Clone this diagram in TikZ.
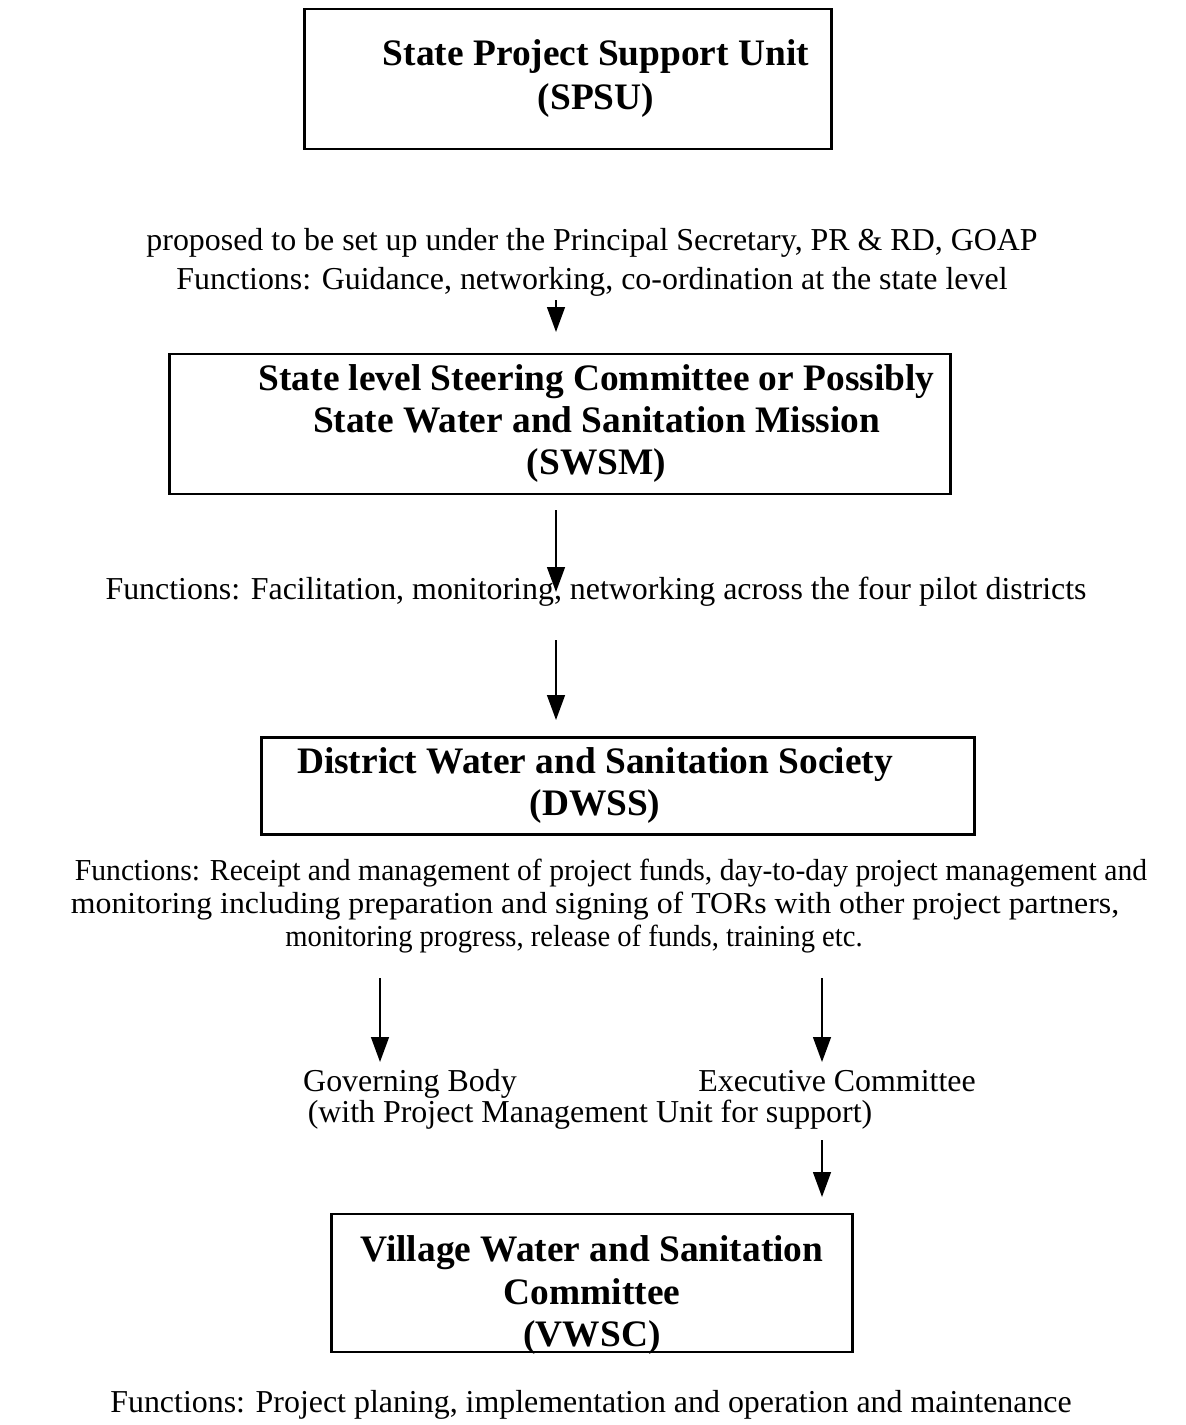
\documentclass[tikz,border=0pt]{standalone}
\usepackage{fontspec}
\setmainfont{Liberation Serif}
\usepackage{tikz}
\usetikzlibrary{positioning,arrows.meta}

% text block set off sideways inside a box
\newcommand{\offtext}[2]{\ifdim#1>0pt\hspace*{#1}\fi
  \begin{tabular}{@{}c@{}}#2\end{tabular}\ifdim#1<0pt\hspace*{-#1}\fi}

\tikzset{
  unitbox/.style={draw,line width=1.2pt,inner sep=0pt,font=\fontsize{15.7pt}{17.8pt}\selectfont\bfseries},
  note/.style={align=center,font=\fontsize{13.4pt}{13.9pt}\selectfont},
  arr/.style={line width=0.8pt,-{Triangle[length=10.5pt,width=7.5pt]}}
}

\begin{document}
\begin{tikzpicture}[x=0.42pt,y=-0.42pt]
    \useasboundingbox (0,0) rectangle (1185,1425);

    % boxes
    \node[unitbox,minimum width=527*0.42pt,minimum height=140*0.42pt]
      (spsu) at (568,79) {\offtext{23.5pt}{State Project Support Unit\\[1pt](SPSU)}};
    \node[unitbox,minimum width=781*0.42pt,minimum height=140*0.42pt]
      (swsm) at (560,424) {\offtext{30.7pt}{State level Steering Committee or Possibly\\
      State Water and Sanitation Mission\\(SWSM)}};
    \node[unitbox,minimum width=713*0.42pt,minimum height=97*0.42pt]
      (dwss) at (618,786) {\offtext{-19.3pt}{District Water and Sanitation Society\\(DWSS)}};
    \node[unitbox,minimum width=521*0.42pt,minimum height=138*0.42pt]
      (vwsc) at (592,1283) {\raisebox{-9pt}[0pt][0pt]{\offtext{0pt}{Village Water and Sanitation\\
      Committee\\(VWSC)}}};

    % function notes
    \node[note,font=\fontsize{13.4pt}{16.4pt}\selectfont] (spsufn) at (592,262)
      {proposed to be set up under the Principal Secretary, PR \& RD, GOAP\\
       Functions: Guidance, networking, co-ordination at the state level};
    \node[note] (swsmfn) at (596,592)
      {Functions: Facilitation, monitoring, networking across the four pilot districts};
    \node[note,font=\fontsize{12.8pt}{13.9pt}\selectfont] (dwssfn) at (595,906)
      {\hspace*{13.4pt}\scalebox{0.973}[1]{Functions: Receipt and management of project funds, day-to-day project management and}\\
       \scalebox{1.044}[1]{monitoring including preparation and signing of TORs with other project partners,}\hspace*{5pt}\\
       \scalebox{0.938}[1]{monitoring progress, release of funds, training etc.}\hspace*{17.6pt}};
    \node[note,anchor=base] (gov) at (410,1091) {Governing Body};
    \node[note,anchor=base] (exec) at (837,1091) {Executive Committee};
    \node[note] (pmu) at (590,1115) {(with Project Management Unit for support)};
    \node[note] (vwscfn) at (591,1405)
      {Functions: Project planing, implementation and operation and maintenance};

    % arrow ends
    \coordinate (a1s) at (556,300);  \coordinate (a1e) at (556,332);
    \coordinate (a2s) at (556,510);  \coordinate (a2e) at (556,592);
    \coordinate (a3s) at (556,640);  \coordinate (a3e) at (556,720);
    \coordinate (a4s) at (380,978);  \coordinate (a4e) at (380,1062);
    \coordinate (a5s) at (822,978);  \coordinate (a5e) at (822,1062);
    \coordinate (a6s) at (822,1140); \coordinate (a6e) at (822,1197);

    \draw[arr] (a1s) -- (a1e);
    \draw[arr] (a2s) -- (a2e);
    \draw[arr] (a3s) -- (a3e);
    \draw[arr] (a4s) -- (a4e);
    \draw[arr] (a5s) -- (a5e);
    \draw[arr] (a6s) -- (a6e);
  \end{tikzpicture}
\end{document}
